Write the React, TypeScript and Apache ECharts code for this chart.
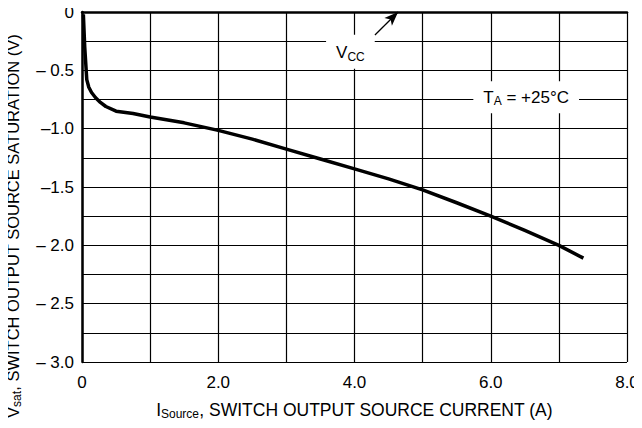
import React, { useEffect, useRef } from "react";
import * as echarts from "echarts";

const curveX = [0.02, 0.04, 0.07, 0.1, 0.14, 0.2, 0.27, 0.35, 0.5, 0.75, 1.0, 1.5, 2.0, 2.5, 3.0, 3.5, 4.0, 4.5, 5.0, 5.5, 6.0, 6.5, 7.0, 7.36];
const curveY = [-0.02, -0.3, -0.58, -0.645, -0.69, -0.735, -0.775, -0.81, -0.85, -0.87, -0.9, -0.95, -1.015, -1.09, -1.175, -1.26, -1.345, -1.43, -1.525, -1.635, -1.75, -1.872, -2.0, -2.11];

const xTickValues = [0, 2, 4, 6, 8];
const xTickLabels = ["0", "2.0", "4.0", "6.0", "8.0"];
const yTickValues = [0, -0.5, -1.0, -1.5, -2.0, -2.5, -3.0];
const yTickLabels = ["0", "\u2013 0.5", "\u20131.0", "\u20131.5", "\u2013 2.0", "\u2013 2.5", "\u2013 3.0"];

const vccLabelPos = [3.94, -0.34];
const vccArrowFrom = [4.3, -0.197];
const vccArrowTo = [4.64, 0];
const taLabelPos = [6.52, -0.73];

const FONT = "'Liberation Sans Narrow', 'Arial Narrow', 'Liberation Sans', Arial, sans-serif";

export default function App() {
  const ref = useRef<HTMLDivElement>(null);
  useEffect(() => {
    const chart = echarts.init(ref.current!, null, { renderer: "svg" });
    const labelFor = (vals: number[], labels: string[], v: number) => {
      const i = vals.findIndex((t) => Math.abs(t - v) < 1e-6);
      return i >= 0 ? labels[i] : "";
    };
    const makeRich = (size: number) => ({
      m: { fontFamily: FONT, fontSize: size, color: "#000", lineHeight: 20 },
      s: { fontFamily: FONT, fontSize: 12, color: "#000", lineHeight: 12, verticalAlign: "bottom", padding: [8, 0, 0, 0] },
    });
    chart.setOption({
      animation: false,
      grid: { left: 82, right: 15, top: 12, bottom: 66 },
      xAxis: {
        type: "value",
        min: 0,
        max: 8,
        interval: 1,
        axisLine: { show: true, lineStyle: { color: "#000", width: 2.5 } },
        axisTick: { show: false },
        splitLine: { show: true, lineStyle: { color: "#000", width: 1.2 } },
        axisLabel: {
          color: "#000",
          fontFamily: FONT,
          fontSize: 17,
          margin: 12,
          formatter: (v: number) => labelFor(xTickValues, xTickLabels, v),
        },
      },
      yAxis: {
        type: "value",
        min: -3,
        max: 0,
        interval: 0.25,
        axisLine: { show: true, lineStyle: { color: "#000", width: 2.5 } },
        axisTick: { show: false },
        splitLine: { show: true, lineStyle: { color: "#000", width: 1.2 } },
        axisLabel: {
          color: "#000",
          fontFamily: FONT,
          fontSize: 17,
          margin: 8,
          formatter: (v: number) => labelFor(yTickValues, yTickLabels, v),
        },
      },
      series: [
        {
          type: "line",
          data: curveX.map((x, i) => [x, curveY[i]]),
          smooth: false,
          symbol: "none",
          lineStyle: { color: "#000", width: 3.5, join: "round" },
          markLine: {
            silent: true,
            symbol: ["none", "arrow"],
            symbolSize: [8, 14],
            label: { show: false },
            lineStyle: { color: "#000", width: 1.3, type: "solid" },
            data: [[{ coord: vccArrowFrom }, { coord: vccArrowTo }]],
          },
        },
      ],
    });
    const vcc = chart.convertToPixel({ gridIndex: 0 }, vccLabelPos);
    const ta = chart.convertToPixel({ gridIndex: 0 }, taLabelPos);
    const left = chart.convertToPixel({ gridIndex: 0 }, [0, 0]);
    const right = chart.convertToPixel({ gridIndex: 0 }, [8, -3]);
    chart.setOption({
      graphic: [
        {
          type: "text",
          x: vcc[0],
          y: vcc[1],
          style: {
            text: "{m|V}{s|CC}",
            rich: makeRich(17),
            align: "center",
            verticalAlign: "middle",
            backgroundColor: "#fff",
            padding: [8, 10, 6, 10],
          },
        },
        {
          type: "text",
          x: ta[0],
          y: ta[1],
          style: {
            text: "{m|T}{s|A}{m| = +25°C}",
            rich: makeRich(17),
            align: "center",
            verticalAlign: "middle",
            backgroundColor: "#fff",
            padding: [6, 10, 6, 10],
          },
        },
        {
          type: "text",
          x: (left[0] + right[0]) / 2,
          y: 410,
          style: {
            text: "{m|I}{s|Source}{m|, SWITCH OUTPUT SOURCE CURRENT (A)}",
            rich: makeRich(17.5),
            align: "center",
            verticalAlign: "middle",
          },
        },
        {
          type: "text",
          x: 13,
          y: 226,
          rotation: Math.PI / 2,
          style: {
            text: "{m|V}{s|sat}{m|, SWITCH OUTPUT SOURCE SATURATION (V)}",
            rich: makeRich(16.5),
            align: "center",
            verticalAlign: "middle",
          },
        },
      ],
    });
    return () => chart.dispose();
  }, []);
  return <div ref={ref} style={{ width: 642, height: 428, margin: -8 }} />;
}
